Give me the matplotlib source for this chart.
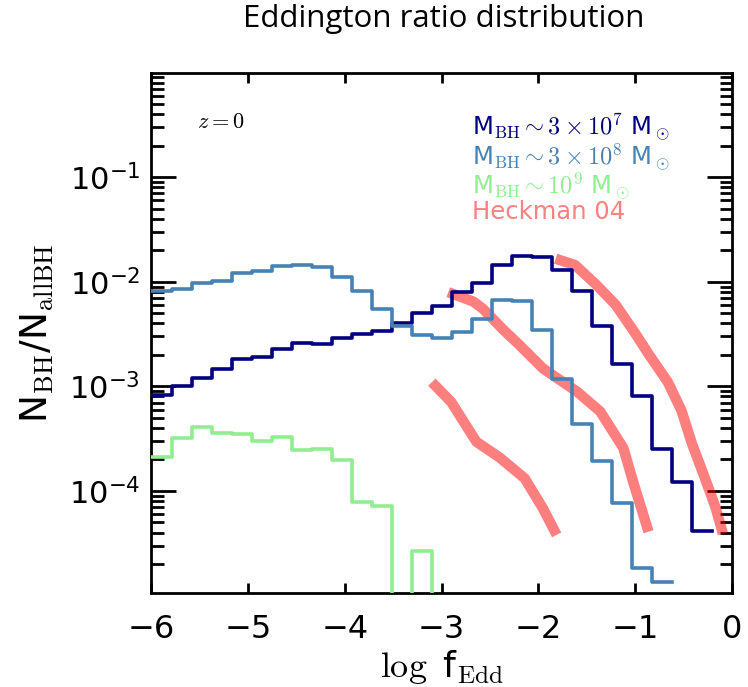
import numpy as np
import matplotlib.pyplot as plt
from matplotlib.ticker import LogLocator, NullFormatter, MultipleLocator, NullLocator

plt.rcParams['mathtext.fontset'] = 'cm'

# histogram bin edges in log f_Edd (the first visible bin starts at -5.993)
bin_edges = np.round(np.linspace(-6.2, 0.0, 31), 4)[1:]

# log10(N_BH / N_allBH) per bin
log_n_3e7 = [-3.08, -3.00, -2.92, -2.83, -2.74, -2.72, -2.64, -2.59, -2.60, -2.54,
             -2.50, -2.47, -2.39, -2.30, -2.23, -2.10, -2.01, -1.84, -1.75, -1.76,
             -1.89, -2.09, -2.42, -2.79, -3.09, -3.60, -3.91, -4.38]
log_n_3e8 = [-2.09, -2.07, -2.01, -1.99, -1.92, -1.90, -1.85, -1.84, -1.86, -1.95,
             -2.09, -2.26, -2.42, -2.51, -2.54, -2.48, -2.36, -2.17, -2.18, -2.46,
             -2.93, -3.36, -3.71, -4.12, -4.74, -4.87]
log_n_1e9 = [-3.68, -3.49, -3.39, -3.45, -3.46, -3.52, -3.48, -3.61, -3.60, -3.70,
             -4.11, -4.14, -np.inf, -4.57, -np.inf]

# Heckman et al. 2004 curves (log f_Edd, log fraction)
heck_a_x = [-1.82, -1.62, -1.41, -1.20, -1.00, -0.86, -0.66, -0.52, -0.41, -0.28, -0.17, -0.09]
heck_a_y = [-1.78, -1.84, -2.02, -2.22, -2.49, -2.69, -2.96, -3.23, -3.55, -3.87, -4.15, -4.41]
heck_b_x = [-2.93, -2.67, -2.57, -2.36, -2.20, -1.95, -1.60, -1.36, -1.12, -1.02, -0.86]
heck_b_y = [-2.10, -2.19, -2.26, -2.46, -2.60, -2.83, -3.05, -3.24, -3.59, -3.91, -4.39]
heck_c_x = [-3.10, -2.90, -2.64, -2.40, -2.14, -1.95, -1.81]
heck_c_y = [-2.96, -3.15, -3.53, -3.68, -3.88, -4.17, -4.42]

labels = [r'M$_{\rm BH}\sim3\times10^7$ M$_\odot$',
          r'M$_{\rm BH}\sim3\times10^8$ M$_\odot$',
          r'M$_{\rm BH}\sim10^9$ M$_\odot$',
          'Heckman 04']
colors = ['navy', 'steelblue', 'lightgreen', '#ff8080']


def hist_step(ax, vals, color):
    y = 10.0 ** np.array(vals)
    edges = bin_edges[:len(y) + 1]
    ax.step(edges, np.append(y, y[-1]), where='post', color=color, lw=2.6, zorder=3)


fig = plt.figure(figsize=(7.48, 6.87), dpi=100)
ax = fig.add_axes([0.2024, 0.1364, 0.7758, 0.7573])
ax.set_yscale('log', nonpositive='clip')

for hx, hy in [(heck_a_x, heck_a_y), (heck_b_x, heck_b_y), (heck_c_x, heck_c_y)]:
    ax.plot(hx, 10.0 ** np.array(hy), color='r', alpha=0.5, lw=7.5,
            solid_capstyle='butt', zorder=2)

hist_step(ax, log_n_3e7, colors[0])
hist_step(ax, log_n_3e8, colors[1])
hist_step(ax, log_n_1e9, colors[2])

ax.set_xlim(-6, 0)
ax.set_ylim(1.05e-5, 0.99)
ax.xaxis.set_major_locator(MultipleLocator(1))
ax.xaxis.set_minor_locator(NullLocator())
ax.set_yticks([1e-4, 1e-3, 1e-2, 1e-1])
ax.yaxis.set_minor_locator(LogLocator(base=10, subs=np.arange(2, 10), numticks=20))
ax.yaxis.set_minor_formatter(NullFormatter())

ax.tick_params(axis='both', which='both', direction='in', top=True, right=True, width=2)
ax.tick_params(axis='y', which='major', length=18, labelsize=22, pad=8)
ax.tick_params(axis='y', which='minor', length=9)
ax.tick_params(axis='x', which='major', length=7, labelsize=23, pad=15)
for s in ax.spines.values():
    s.set_linewidth(2)

ax.set_xlabel(r'$\log$ f$_{\rm Edd}$', fontsize=26, labelpad=2)
ax.set_ylabel(r'N$_{\rm BH}$/N$_{\rm all BH}$', fontsize=27, labelpad=9)

ax.text(0.079, 0.905, r'$z=0$', transform=ax.transAxes, fontsize=16, va='center')
label_y = [0.897, 0.838, 0.783, 0.733]
for lab, col, ly in zip(labels, colors, label_y):
    ax.text(0.552, ly, lab, transform=ax.transAxes, fontsize=17.5, color=col, va='center')

fig.text(0.593, 0.972, 'Eddington ratio distribution', fontsize=22.5,
         family=['Open Sans', 'DejaVu Sans'], ha='center', va='center')

fig.savefig('out.png', dpi=100)
